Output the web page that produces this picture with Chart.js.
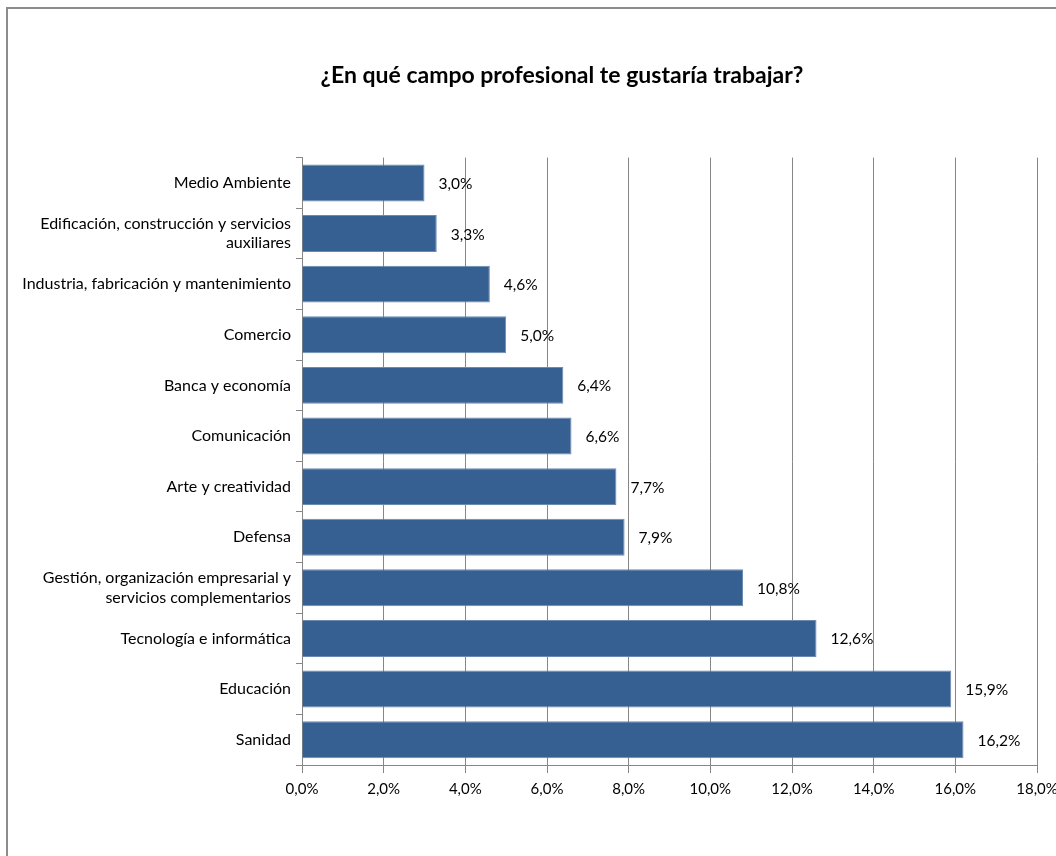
<!DOCTYPE html>
<html>
<head>
<meta charset="utf-8">
<script src="https://cdn.jsdelivr.net/npm/chart.js@4/dist/chart.umd.min.js"></script>
<style>
  body { margin: 0; background: #fff; overflow: hidden; }
  #frame { position: absolute; left: 6px; top: 7px; width: 1100px; height: 900px; border: 2px solid #8c8c8c; }
  #wrap { position: absolute; left: 0; top: 0; width: 1056px; height: 856px; }
</style>
</head>
<body>
<div id="frame"></div>
<div id="wrap"><canvas id="grafico" width="1056" height="856"></canvas></div>
<script>
var campos = [
  'Medio Ambiente',
  ['Edificación, construcción y servicios', 'auxiliares'],
  'Industria, fabricación y mantenimiento',
  'Comercio',
  'Banca y economía',
  'Comunicación',
  'Arte y creatividad',
  'Defensa',
  ['Gestión, organización empresarial y', 'servicios complementarios'],
  'Tecnología e informática',
  'Educación',
  'Sanidad'
];
var porcentajes = [3.0, 3.3, 4.6, 5.0, 6.4, 6.6, 7.7, 7.9, 10.8, 12.6, 15.9, 16.2];
var titulo = '¿En qué campo profesional te gustaría trabajar?';

var fuente = 'Lato, "Liberation Sans", sans-serif';

function fmt(v) {
  return v.toFixed(1).replace('.', ',') + '%';
}

// etiquetas de datos a la derecha de cada barra
var etiquetas = {
  id: 'etiquetas',
  afterLayout: function(chart) {
    // el titulo va centrado algo a la derecha, como en el original
    if (chart.titleBlock) chart.titleBlock.left = 87;
  },
  afterDatasetsDraw: function(chart) {
    var ctx = chart.ctx;
    var meta = chart.getDatasetMeta(0);
    ctx.save();
    ctx.font = '15.5px ' + fuente;
    ctx.fillStyle = '#000';
    ctx.textAlign = 'left';
    ctx.textBaseline = 'middle';
    meta.data.forEach(function(bar, i) {
      ctx.fillText(fmt(porcentajes[i]), bar.x + 14, bar.y + 1);
    });
    ctx.restore();
  }
};

var ctx = document.getElementById('grafico').getContext('2d');
var myChart = new Chart(ctx, {
  type: 'bar',
  data: {
    labels: campos,
    datasets: [{
      data: porcentajes,
      backgroundColor: '#376092',
      borderColor: '#6a8ab0',
      borderWidth: 1,
      categoryPercentage: 0.73,
      barPercentage: 1
    }]
  },
  plugins: [etiquetas],
  options: {
    indexAxis: 'y',
    responsive: false,
    animation: false,
    layout: { padding: { left: 0, right: 19, top: 0, bottom: 51 } },
    plugins: {
      legend: { display: false },
      tooltip: { enabled: false },
      title: {
        display: true,
        text: titulo,
        color: '#000',
        font: { family: fuente, size: 23, weight: 'bold' },
        padding: { top: 62, bottom: 68 }
      }
    },
    scales: {
      x: {
        min: 0,
        max: 18,
        ticks: {
          stepSize: 2,
          color: '#000',
          font: { family: fuente, size: 15 },
          padding: 7,
          callback: function(v) { return fmt(v); }
        },
        grid: { color: '#868686', tickLength: 8, lineWidth: 1 },
        border: { color: '#868686' },
        afterFit: function(scale) {
          scale.paddingLeft = 0;
          scale.paddingRight = 0;
          scale.height = 40;
        }
      },
      y: {
        ticks: {
          color: '#000',
          font: { family: fuente, size: 16 },
          padding: 5
        },
        grid: { drawOnChartArea: false, color: '#868686', tickLength: 6, offset: true },
        border: { color: '#868686' },
        afterFit: function(scale) {
          scale.width = 302;
        }
      }
    }
  }
});
</script>
</body>
</html>
